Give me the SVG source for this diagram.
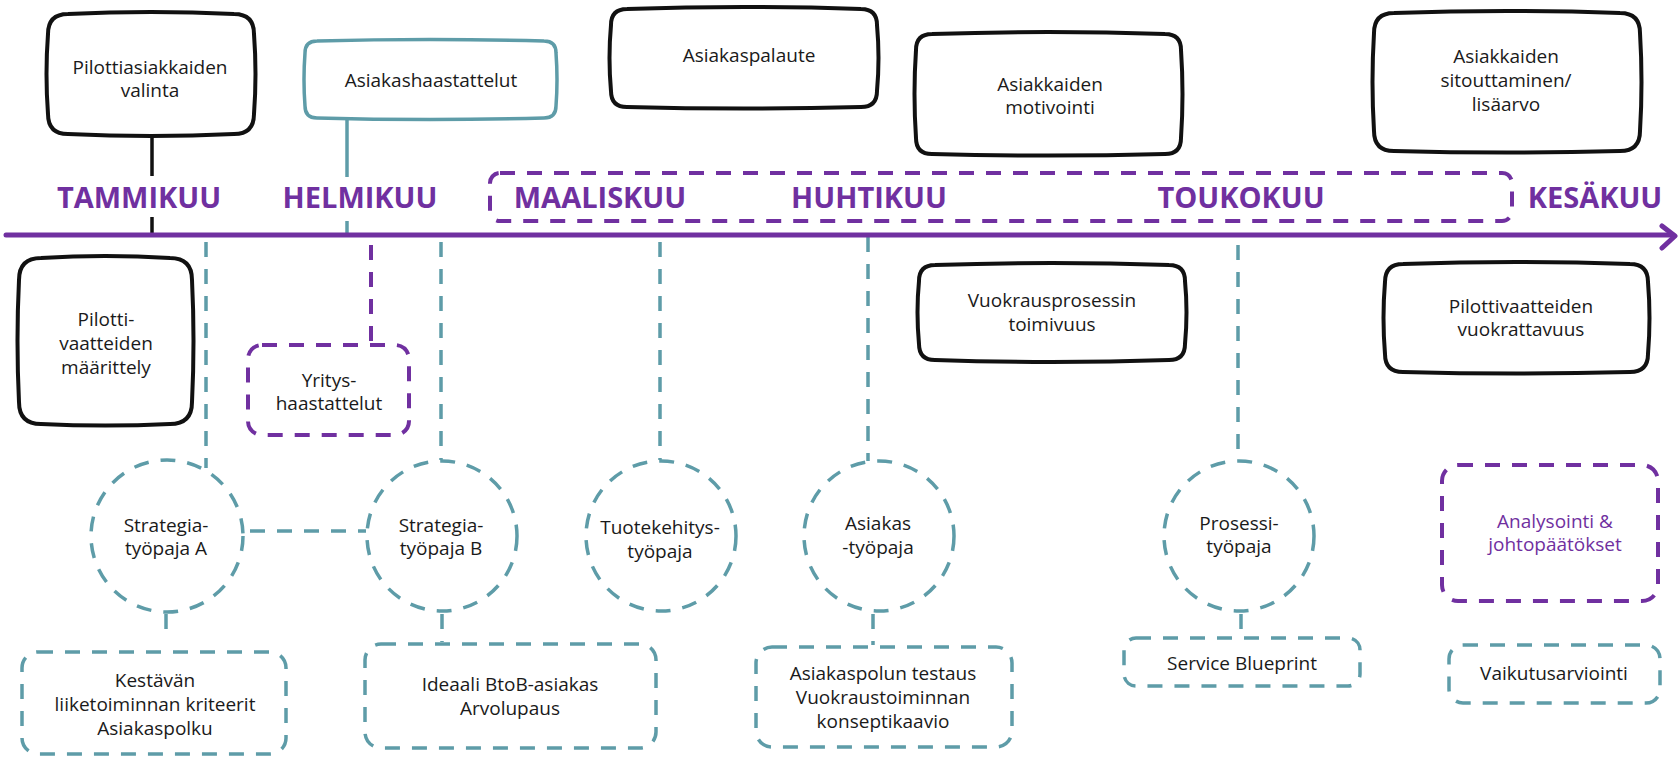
<svg xmlns="http://www.w3.org/2000/svg" width="1678" height="757" viewBox="0 0 1678 757">
<style>
text{font-family:"Open Sans","Noto Sans","Liberation Sans",sans-serif;font-size:19px;fill:#1a1a1a;text-anchor:middle}
.month{font-size:29px;font-weight:700;fill:#7030A0}
.purpletxt{fill:#7030A0}
.hand{fill:#fff;stroke:#111;stroke-width:4;stroke-linejoin:round}
.handteal{fill:#fff;stroke:#5E9CA8;stroke-width:3.5;stroke-linejoin:round}
.dteal{fill:none;stroke:#5E9CA8;stroke-width:3.5;stroke-dasharray:15 12}
.dpurple{fill:none;stroke:#7030A0;stroke-width:4;stroke-dasharray:15 12}
.solidblack{stroke:#111;stroke-width:3.5;fill:none}
.solidteal{stroke:#5E9CA8;stroke-width:3.5;fill:none}
.axis{stroke:#7030A0;stroke-width:5;fill:none;stroke-linecap:round;stroke-linejoin:round}
</style>
<rect width="1678" height="757" fill="#fff"/>

<g id="connectors">
  <line class="solidblack" x1="152" y1="134" x2="152" y2="176"/>
  <line class="solidblack" x1="152" y1="217" x2="152" y2="233"/>
  <line class="solidteal" x1="347" y1="118" x2="347" y2="177"/>
  <line class="solidteal" x1="347" y1="221" x2="347" y2="233"/>
  <line class="dteal" x1="206" y1="242" x2="206" y2="468"/>
  <line class="dpurple" x1="371" y1="245" x2="371" y2="345"/>
  <line class="dteal" x1="441" y1="242" x2="441" y2="460"/>
  <line class="dteal" x1="660" y1="242" x2="660" y2="460"/>
  <line class="dteal" x1="868" y1="237" x2="868" y2="461"/>
  <line class="dteal" x1="1238" y1="245" x2="1238" y2="460"/>
  <line class="dteal" x1="250" y1="531" x2="366" y2="531"/>
  <line class="dteal" x1="166" y1="614" x2="166" y2="640" stroke-dasharray="none"/>
  <line class="dteal" x1="442" y1="614" x2="442" y2="642" stroke-dasharray="none"/>
  <line class="dteal" x1="873" y1="614" x2="873" y2="645" stroke-dasharray="none"/>
  <line class="dteal" x1="1241" y1="614" x2="1241" y2="636" stroke-dasharray="none"/>
</g>

<g id="timeline">
  <rect class="dpurple" x="490" y="173" width="1022" height="48" rx="10"/>
  <line class="axis" x1="6" y1="235" x2="1673" y2="235"/>
  <path class="axis" d="M1662,226 L1675,236 L1662,248"/>
  <text class="month" x="139" y="208">TAMMIKUU</text>
  <text class="month" x="360" y="208">HELMIKUU</text>
  <text class="month" x="600" y="208">MAALISKUU</text>
  <text class="month" x="869" y="208">HUHTIKUU</text>
  <text class="month" x="1241" y="208">TOUKOKUU</text>
  <text class="month" x="1595" y="208">KESÄKUU</text>
</g>

<g id="pilottiasiakkaiden-valinta">
  <path class="hand" d="M68,14 Q151,10 234,14 Q254,14 254,34 Q257,74 254,114 Q254,134 234,134 Q151,138 68,134 Q48,134 48,114 Q45,74 48,34 Q48,14 68,14 Z"/>
  <text x="150" y="74">Pilottiasiakkaiden</text>
  <text x="150" y="97">valinta</text>
</g>

<g id="asiakashaastattelut">
  <path class="handteal" d="M317,41 Q430,38 544,41 Q556,41 556,53 Q558,80 556,106 Q556,118 544,118 Q430,121 317,118 Q305,118 305,106 Q303,80 305,53 Q305,41 317,41 Z"/>
  <text x="431" y="87">Asiakashaastattelut</text>
</g>

<g id="asiakaspalaute">
  <path class="hand" d="M627,9 Q744,5 861,9 Q877,9 877,25 Q880,58 877,91 Q877,107 861,107 Q744,110 627,107 Q611,107 611,91 Q608,58 611,25 Q611,9 627,9 Z"/>
  <text x="749" y="62">Asiakaspalaute</text>
</g>

<g id="asiakkaiden-motivointi">
  <path class="hand" d="M932,34 Q1048,30 1165,34 Q1181,34 1181,50 Q1184,94 1181,138 Q1181,154 1165,154 Q1048,157 932,154 Q916,154 916,138 Q913,94 916,50 Q916,34 932,34 Z"/>
  <text x="1050" y="91">Asiakkaiden</text>
  <text x="1050" y="114">motivointi</text>
</g>

<g id="asiakkaiden-sitouttaminen">
  <path class="hand" d="M1394,13 Q1507,9 1620,13 Q1640,13 1640,33 Q1643,82 1640,131 Q1640,151 1620,151 Q1507,154 1394,151 Q1374,151 1374,131 Q1371,82 1374,33 Q1374,13 1394,13 Z"/>
  <text x="1506" y="63">Asiakkaiden</text>
  <text x="1506" y="87">sitouttaminen/</text>
  <text x="1506" y="111">lisäarvo</text>
</g>

<g id="pilottivaatteiden-maarittely">
  <path class="hand" d="M41,258 Q105,254 170,258 Q192,258 192,280 Q195,341 192,402 Q192,424 170,424 Q105,427 41,424 Q19,424 19,402 Q16,341 19,280 Q19,258 41,258 Z"/>
  <text x="106" y="326">Pilotti-</text>
  <text x="106" y="350">vaatteiden</text>
  <text x="106" y="374">määrittely</text>
</g>

<g id="yrityshaastattelut">
  <rect class="dpurple" x="248" y="345" width="161" height="90" rx="14"/>
  <text x="329" y="387">Yritys-</text>
  <text x="329" y="410">haastattelut</text>
</g>

<g id="vuokrausprosessin-toimivuus">
  <path class="hand" d="M935,265 Q1052,261 1169,265 Q1185,265 1185,281 Q1188,312 1185,344 Q1185,360 1169,360 Q1052,364 935,360 Q919,360 919,344 Q916,312 919,281 Q919,265 935,265 Z"/>
  <text x="1052" y="307">Vuokrausprosessin</text>
  <text x="1052" y="331">toimivuus</text>
</g>

<g id="pilottivaatteiden-vuokrattavuus">
  <path class="hand" d="M1403,264 Q1516,260 1630,264 Q1648,264 1648,282 Q1651,318 1648,354 Q1648,372 1630,372 Q1516,375 1403,372 Q1385,372 1385,354 Q1382,318 1385,282 Q1385,264 1403,264 Z"/>
  <text x="1521" y="313">Pilottivaatteiden</text>
  <text x="1521" y="336">vuokrattavuus</text>
</g>

<g id="strategiatyopaja-a">
  <circle class="dteal" cx="167" cy="536" r="76"/>
  <text x="166" y="532">Strategia-</text>
  <text x="166" y="555">työpaja A</text>
</g>

<g id="strategiatyopaja-b">
  <circle class="dteal" cx="442" cy="536" r="75"/>
  <text x="441" y="532">Strategia-</text>
  <text x="441" y="555">työpaja B</text>
</g>

<g id="tuotekehitystyopaja">
  <circle class="dteal" cx="661" cy="536" r="75"/>
  <text x="660" y="534">Tuotekehitys-</text>
  <text x="660" y="558">työpaja</text>
</g>

<g id="asiakastyopaja">
  <circle class="dteal" cx="879" cy="536" r="75"/>
  <text x="878" y="530">Asiakas</text>
  <text x="878" y="554">-työpaja</text>
</g>

<g id="prosessityopaja">
  <circle class="dteal" cx="1239" cy="536" r="75"/>
  <text x="1239" y="530">Prosessi-</text>
  <text x="1239" y="553">työpaja</text>
</g>

<g id="analysointi">
  <rect class="dpurple" x="1442" y="465" width="216" height="136" rx="16"/>
  <text class="purpletxt" x="1555" y="528">Analysointi &amp;</text>
  <text class="purpletxt" x="1555" y="551">johtopäätökset</text>
</g>

<g id="kestavan-liiketoiminnan">
  <rect class="dteal" x="22" y="652" width="264" height="102" rx="16"/>
  <text x="155" y="687">Kestävän</text>
  <text x="155" y="711">liiketoiminnan kriteerit</text>
  <text x="155" y="735">Asiakaspolku</text>
</g>

<g id="ideaali-btob">
  <rect class="dteal" x="365" y="644" width="291" height="104" rx="16"/>
  <text x="510" y="691">Ideaali BtoB-asiakas</text>
  <text x="510" y="715">Arvolupaus</text>
</g>

<g id="asiakaspolun-testaus">
  <rect class="dteal" x="756" y="647" width="256" height="100" rx="16"/>
  <text x="883" y="680">Asiakaspolun testaus</text>
  <text x="883" y="704">Vuokraustoiminnan</text>
  <text x="883" y="728">konseptikaavio</text>
</g>

<g id="service-blueprint">
  <rect class="dteal" x="1124" y="638" width="236" height="48" rx="12"/>
  <text x="1242" y="670">Service Blueprint</text>
</g>

<g id="vaikutusarviointi">
  <rect class="dteal" x="1449" y="645" width="211" height="58" rx="14"/>
  <text x="1554" y="680">Vaikutusarviointi</text>
</g>
</svg>
